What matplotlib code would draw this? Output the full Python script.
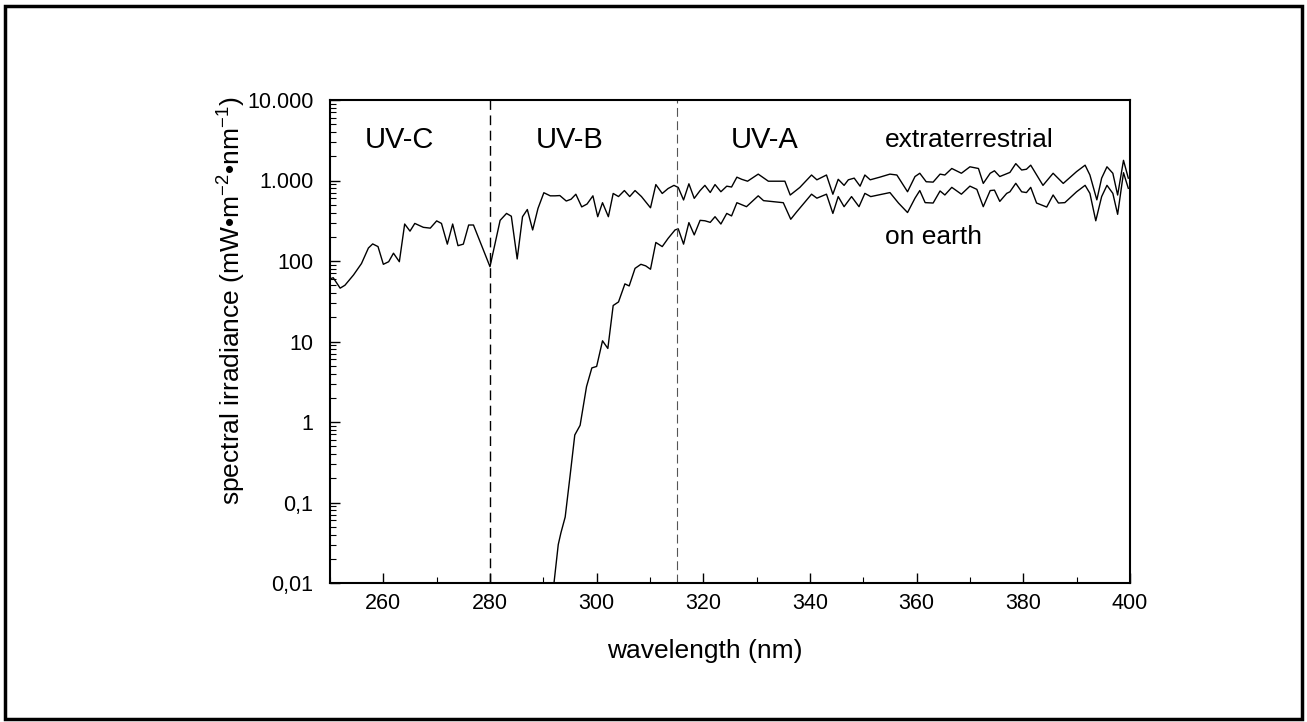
import matplotlib
matplotlib.use('Agg')
import matplotlib.pyplot as plt
import numpy as np
from matplotlib.ticker import FixedLocator, FixedFormatter, LogLocator, NullFormatter, MultipleLocator
from matplotlib.patches import Rectangle

plt.rcParams['font.family'] = ['Liberation Sans', 'DejaVu Sans']
plt.rcParams['mathtext.fontset'] = 'custom'
plt.rcParams['mathtext.rm'] = 'Liberation Sans'
plt.rcParams['mathtext.it'] = 'Liberation Sans'

# extraterrestrial spectrum (nm, mW/m2/nm)
wl_space = [250.0, 250.6, 251.9, 252.8, 254.4, 255.9, 257.2, 258.0, 259.0, 260.0,
            261.0, 261.9, 263.0, 264.0, 265.0, 265.9, 267.5, 268.8, 270.0, 270.9,
            272.0, 273.0, 274.0, 275.0, 276.0, 276.9, 280.0, 281.9, 283.1, 284.0,
            285.1, 286.1, 287.0, 288.0, 289.0, 290.1, 291.3, 292.2, 293.1, 294.3,
            295.2, 296.1, 297.2, 298.2, 299.3, 300.2, 301.1, 302.2, 303.1, 304.1,
            305.2, 306.2, 307.2, 308.4, 310.1, 311.1, 312.3, 313.4, 314.5, 315.3,
            316.3, 317.3, 318.3, 319.4, 320.3, 321.3, 322.2, 323.3, 324.4, 325.3,
            326.3, 327.2, 328.3, 330.3, 332.2, 335.3, 336.3, 338.1, 340.3, 341.3,
            343.1, 344.3, 345.3, 346.4, 347.2, 348.3, 349.4, 350.3, 351.3, 353.1,
            355.0, 356.3, 358.3, 359.7, 360.6, 361.8, 363.1, 364.4, 365.3, 366.6,
            368.4, 370.0, 371.6, 372.5, 373.8, 374.6, 375.6, 377.5, 378.6, 379.7,
            380.6, 381.4, 383.7, 385.6, 387.5, 390.0, 391.6, 392.5, 393.8, 394.7,
            395.7, 396.8, 397.7, 398.8, 399.7]
irr_space = [60, 62, 46, 50, 67, 93, 145, 163, 151, 91,
             98, 125, 98, 288, 235, 293, 262, 256, 315, 293,
             162, 288, 155, 162, 280, 280, 85, 320, 390, 360,
             106, 355, 436, 243, 450, 705, 645, 645, 650, 556,
             585, 675, 470, 510, 645, 355, 530, 355, 690, 632,
             750, 632, 750, 632, 458, 890, 690, 795, 870, 820,
             573, 910, 600, 750, 870, 710, 890, 725, 850, 830,
             1100, 1035, 980, 1200, 980, 980, 660, 820, 1170, 1020,
             1170, 675, 1035, 870, 1020, 1070, 850, 1170, 1020, 1100,
             1200, 1170, 725, 1120, 1230, 965, 955, 1200, 1170, 1410,
             1230, 1480, 1410, 920, 1230, 1320, 1120, 1260, 1620, 1350,
             1380, 1550, 870, 1230, 920, 1290, 1550, 1170, 575, 1070,
             1480, 1230, 660, 1780, 1070]

# spectrum at the earth's surface
wl_earth = [292.0, 292.8, 293.3, 294.1, 295.0, 295.9, 296.9, 298.1, 299.1, 300.0,
            301.1, 302.1, 303.1, 304.1, 305.3, 306.1, 307.2, 308.3, 309.2, 310.1,
            311.1, 312.3, 313.4, 314.7, 315.3, 316.3, 317.3, 318.3, 319.4, 320.3,
            321.3, 322.2, 323.3, 324.4, 325.3, 326.3, 328.1, 330.3, 331.3, 335.0,
            336.4, 337.5, 340.3, 341.3, 343.1, 344.3, 345.3, 346.4, 347.8, 349.2,
            350.3, 351.4, 355.0, 356.6, 358.3, 359.7, 360.6, 361.6, 363.1, 364.4,
            365.3, 366.6, 368.4, 370.0, 371.3, 372.5, 373.8, 374.6, 375.6, 376.9,
            377.5, 378.6, 379.7, 380.6, 381.4, 382.5, 384.4, 385.6, 386.6, 387.8,
            390.0, 391.6, 392.5, 393.6, 394.7, 395.7, 396.8, 397.7, 398.8, 399.7]
irr_earth = [0.01, 0.03, 0.042, 0.066, 0.21, 0.69, 0.91, 2.75, 4.7, 4.9,
             10.2, 8.2, 28, 31, 52, 49, 81, 91, 87, 79,
             170, 151, 191, 243, 251, 162, 300, 211, 320, 316,
             302, 355, 288, 390, 363, 530, 473, 645, 562, 530,
             330, 407, 676, 603, 676, 390, 631, 473, 631, 473,
             692, 631, 708, 525, 400, 603, 750, 531, 525, 741,
             661, 822, 676, 851, 776, 473, 750, 759, 550, 692,
             724, 923, 724, 708, 822, 525, 468, 661, 525, 531,
             724, 871, 692, 316, 631, 871, 692, 380, 1250, 800]

y_ticks = [0.01, 0.1, 1, 10, 100, 1000, 10000]
y_labels = ['0,01', '0,1', '1', '10', '100', '1.000', '10.000']
x_ticks = [260, 280, 300, 320, 340, 360, 380, 400]
band_edges = [280, 315]
band_names = ['UV-C', 'UV-B', 'UV-A']
band_pos = [263, 295, 331.5]

fig = plt.figure(figsize=(13.07, 7.22), dpi=100)
ax = fig.add_axes([0.2525, 0.1925, 0.612, 0.669])

ax.plot(wl_space, irr_space, color='black', lw=1.0)
ax.plot(wl_earth, irr_earth, color='black', lw=1.0)

ax.axvline(band_edges[0], color='black', lw=1.0, ls=(0, (7, 4)))
ax.axvline(band_edges[1], color='#555555', lw=0.8, ls=(0, (8, 4)))

ax.set_yscale('log')
ax.set_xlim(250, 400)
ax.set_ylim(0.01, 10000)

ax.yaxis.set_major_locator(FixedLocator(y_ticks))
ax.yaxis.set_major_formatter(FixedFormatter(y_labels))
ax.yaxis.set_minor_locator(LogLocator(base=10, subs=np.arange(2, 10)))
ax.yaxis.set_minor_formatter(NullFormatter())
ax.xaxis.set_major_locator(FixedLocator(x_ticks))
ax.xaxis.set_minor_locator(MultipleLocator(10))

ax.tick_params(axis='both', which='major', direction='in', length=7, width=1,
               labelsize=15.5, right=False, top=False)
ax.tick_params(axis='x', which='major', pad=7)
ax.tick_params(axis='y', which='major', pad=12)
ax.tick_params(axis='both', which='minor', direction='in', length=4, width=0.8,
               right=False, top=False)
for s in ax.spines.values():
    s.set_linewidth(1.5)

for name, xpos in zip(band_names, band_pos):
    ax.text(xpos, 3200, name, ha='center', va='center', fontsize=21)
ax.text(354, 3200, 'extraterrestrial', ha='left', va='center', fontsize=19)
ax.text(354, 163, 'on earth', ha='left', va='baseline', fontsize=19)

fig.text(705 / 1307, 1 - 658 / 722, 'wavelength (nm)', ha='center', va='baseline', fontsize=19)
fig.text(232 / 1307, 1 - 301 / 722, 'spectral irradiance (mW\u2022m$^{-2}$\u2022nm$^{-1}$)',
         ha='center', va='center', rotation=90, fontsize=19)

fig.patches.append(Rectangle((0.004, 0.004), 0.992, 0.988, transform=fig.transFigure,
                             fill=False, edgecolor='black', lw=2.5))

fig.savefig('out.png', dpi=100)
